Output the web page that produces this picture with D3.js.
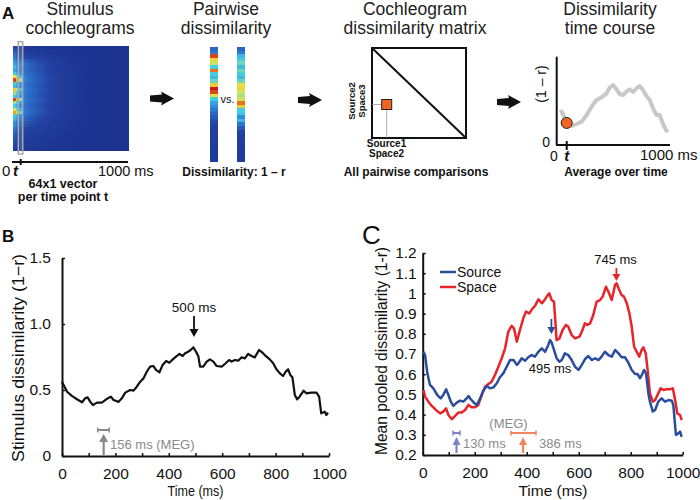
<!DOCTYPE html>
<html><head><meta charset="utf-8">
<script src="https://cdn.jsdelivr.net/npm/d3@7"></script>
<style>body{margin:0;background:#fff}svg{display:block}text{font-family:"Liberation Sans",Arial,Helvetica,sans-serif}</style>
</head><body><svg id="fig" width="700" height="500"></svg>
<script>
// ---------- DATA ----------
// Panel B: stimulus dissimilarity time course
const timeB = [0,19,37,56,75,87,96,106,116,131,149,162,174,183,193,212,224,237,255,268,280,293,305,318,330,342,352,365,377,390,402,415,427,440,452,461,473,482,492,502,511,517,529,542,554,567,579,598,610,626,635,648,660,672,685,697,710,722,738,751,763,778,791,803,816,828,838,847,855,863,872,881,890,905,915,934,953,963,971,984,990,996];
const stimDissim = [0.563,0.487,0.455,0.43,0.407,0.437,0.444,0.41,0.386,0.404,0.404,0.424,0.44,0.45,0.424,0.41,0.437,0.48,0.5,0.495,0.525,0.563,0.588,0.64,0.677,0.682,0.652,0.634,0.69,0.72,0.707,0.732,0.753,0.773,0.758,0.778,0.79,0.803,0.823,0.79,0.753,0.677,0.677,0.715,0.732,0.715,0.682,0.677,0.697,0.727,0.715,0.727,0.722,0.747,0.74,0.773,0.758,0.747,0.803,0.783,0.758,0.732,0.702,0.657,0.626,0.606,0.639,0.657,0.614,0.596,0.462,0.429,0.45,0.495,0.475,0.48,0.48,0.45,0.323,0.336,0.31,0.328];
const bTicksY = [0,0.5,1,1.5];
const xTicks = [0,100,200,300,400,500,600,700,800,900,1000];

// Panel C: mean pooled dissimilarity
const timeSource = [3,9,18,28,41,56,69,79,90,99,108,118,131,144,156,169,176,185,197,208,221,233,246,259,272,285,297,310,323,336,349,362,368,381,394,406,419,432,445,458,471,483,490,496,505,515,526,535,547,560,573,586,599,612,624,637,650,663,676,688,701,714,727,740,753,765,778,791,804,817,826,836,846,851,859,868,874,885,894,906,919,932,945,958,964,974,983,990,996];
const source = [0.711,0.695,0.604,0.547,0.53,0.497,0.48,0.497,0.525,0.497,0.464,0.443,0.459,0.469,0.464,0.48,0.492,0.476,0.459,0.447,0.48,0.518,0.542,0.53,0.535,0.555,0.585,0.604,0.637,0.67,0.67,0.646,0.654,0.679,0.667,0.684,0.695,0.687,0.711,0.728,0.711,0.745,0.769,0.756,0.72,0.679,0.662,0.67,0.703,0.695,0.67,0.637,0.621,0.646,0.674,0.69,0.67,0.679,0.67,0.687,0.711,0.695,0.687,0.72,0.703,0.684,0.684,0.657,0.621,0.601,0.601,0.58,0.604,0.621,0.604,0.505,0.464,0.415,0.423,0.464,0.48,0.464,0.472,0.469,0.447,0.299,0.307,0.316,0.29];
const timeSpace = [3,9,22,35,51,67,79,90,99,112,124,137,150,163,176,188,201,214,227,240,253,265,278,291,304,317,329,342,351,362,374,387,397,410,423,432,445,458,467,477,487,496,505,515,526,538,551,560,573,586,603,612,624,633,644,656,669,682,692,705,714,727,740,746,756,765,774,785,795,804,813,823,833,842,849,858,865,874,885,894,906,915,926,938,951,962,971,979,990,996];
const space = [0.522,0.489,0.464,0.443,0.423,0.406,0.415,0.431,0.398,0.377,0.393,0.41,0.41,0.423,0.448,0.436,0.436,0.448,0.497,0.538,0.551,0.563,0.596,0.637,0.679,0.728,0.81,0.839,0.827,0.761,0.819,0.877,0.91,0.901,0.926,0.938,0.971,0.951,0.964,0.984,1.0,0.967,0.959,0.769,0.777,0.819,0.844,0.835,0.794,0.777,0.786,0.81,0.852,0.844,0.852,0.893,0.959,0.967,0.984,1.033,1.009,0.967,1.042,1.05,1.017,0.992,0.984,0.951,0.901,0.835,0.736,0.711,0.687,0.72,0.733,0.703,0.621,0.505,0.464,0.472,0.505,0.53,0.522,0.525,0.525,0.53,0.472,0.406,0.398,0.373];
const cTicksY = [0.2,0.3,0.4,0.5,0.6,0.7,0.8,0.9,1,1.1,1.2];
const seriesNames = ["Source","Space"];

// Panel A: schematic cochleogram (32 frequency rows x 36 time bins)
const cochSpectrum = [0.15,0.2,0.25,0.3,0.35,0.4,0.45,0.4,0.5,0.7,0.95,0.5,0.45,0.75,0.6,0.5,0.95,0.6,0.5,0.65,0.85,0.5,0.45,0.35,0.35,0.3,0.25,0.22,0.2,0.18,0.15,0.12];
const cochEnvelope = [0.1,0.12,0.18,0.3,0.42,0.5,0.52,0.5,0.55,0.58,0.6,0.56,0.55,0.58,0.56,0.55,0.58,0.55,0.52,0.55,0.56,0.5,0.45,0.4,0.36,0.3,0.25,0.2,0.16,0.14,0.12,0.1];
const cochSharp = [1,0.85,0.62,0.3,0,0,0,0,0,0,0,0,0,0,0,0,0,0,0,0,0,0,0,0,0,0,0,0,0,0,0,0,0,0,0,0];
const cochHaze = [0.6,0.6,0.6,0.55,0.5,0.46,0.43,0.4,0.36,0.33,0.3,0.27,0.24,0.21,0.18,0.15,0.12,0.1,0.08,0.07,0.06,0.05,0.04,0.03,0.02,0.01,0,0,0,0,0,0,0,0,0,0];
// Two 64x1 vectors (shown as 32 bins)
const vecA = [0.25,0.3,0.95,0.72,0.65,0.5,0.9,0.5,0.45,0.55,0.75,1.0,0.95,0.7,0.5,0.4,0.35,0.3,0.25,0.22,0.18,0.15,0.12,0.1,0.1,0.1,0.08,0.08,0.08,0.08,0.08,0.08];
const vecB = [0.25,0.3,0.45,0.5,0.55,0.45,0.55,0.5,0.45,0.55,0.7,0.72,0.65,0.62,0.65,0.9,0.75,0.5,0.48,0.35,0.45,0.3,0.22,0.15,0.12,0.1,0.1,0.1,0.08,0.08,0.08,0.08];
// Mini time course
const miniTime = [36,60,90,134,179,224,269,313,358,403,448,478,507,537,567,597,627,657,687,716,746,776,806,836,866,896,925,955,985,1000];
const miniVal = [0.396,0.34,0.238,0.215,0.238,0.264,0.34,0.434,0.509,0.54,0.585,0.653,0.679,0.63,0.577,0.566,0.604,0.63,0.6,0.642,0.668,0.623,0.555,0.509,0.415,0.34,0.34,0.238,0.162,0.177];
const miniPoint = [90, 0.25];

// ---------- DRAWING ----------
const svg = d3.select("#fig");
svg.append("rect").attr("width",700).attr("height",500).attr("fill","#fff");
const BLUE = "#2b4d9e", RED = "#e8242b", GRAY = "#8a8a8a", ORANGE = "#f26522";

function T(g, x, y, s, o = {}) {
  const t = g.append("text").text(s)
    .attr("font-size", o.size || 15)
    .attr("font-weight", o.weight || "normal")
    .attr("text-anchor", o.anchor || "start")
    .attr("fill", o.fill || "#111");
  if (o.italic) t.attr("font-style", "italic");
  if (o.rot) t.attr("transform", `translate(${x},${y}) rotate(-90)`);
  else t.attr("x", x).attr("y", y);
  if (o.len) t.attr("textLength", o.len).attr("lengthAdjust", "spacingAndGlyphs");
  return t;
}
function vArrow(g, x, yFrom, yTip, color, hl = 7, hw = 4, sw = 1.8) {
  const dir = yTip > yFrom ? 1 : -1;
  g.append("line").attr("x1", x).attr("x2", x).attr("y1", yFrom).attr("y2", yTip - dir * hl)
    .attr("stroke", color).attr("stroke-width", sw);
  g.append("path").attr("d", `M${x - hw},${yTip - dir * hl} L${x + hw},${yTip - dir * hl} L${x},${yTip} Z`).attr("fill", color);
}
function errBar(g, x1, x2, y, color) {
  g.append("line").attr("x1", x1).attr("x2", x2).attr("y1", y).attr("y2", y).attr("stroke", color).attr("stroke-width", 2);
  [x1, x2].forEach(x => g.append("line").attr("x1", x).attr("x2", x).attr("y1", y - 2.5).attr("y2", y + 2.5).attr("stroke", color).attr("stroke-width", 1.5));
}
function bigArrow(g, x0, cy) {
  g.append("path").attr("d", `M${x0},${cy-3} L${x0+12},${cy-4} L${x0+11},${cy-7} L${x0+24},${cy} L${x0+11},${cy+7} L${x0+12},${cy+4} L${x0},${cy+3} Z`).attr("fill", "#111");
}
const jet = d3.scaleLinear()
  .domain([0, 0.15, 0.32, 0.5, 0.68, 0.85, 1])
  .range(["#1c3390", "#2443a3", "#2f7fd8", "#42cfe2", "#e6e64a", "#f5a01e", "#cc1a1a"]).clamp(true);

// ===== Panel A =====
const gA = svg.append("g");
T(gA, 2, 19, "A", {size: 17, weight: "bold"});
[["Stimulus","cochleograms",80],["Pairwise","dissimilarity",226],["Cochleogram","dissimilarity matrix",415],["Dissimilarity","time course",610]]
  .forEach(([a,b,cx]) => { T(gA, cx, 15, a, {size: 17.5, anchor: "middle", fill: "#222"}); T(gA, cx, 34, b, {size: 17.5, anchor: "middle", fill: "#222"}); });

// cochleogram
const cx = d3.scaleBand().domain(d3.range(cochHaze.length)).range([12.7, 128.3]);
const cy = d3.scaleBand().domain(d3.range(cochSpectrum.length)).range([45.7, 150]);
const cells = [];
cochSpectrum.forEach((s, r) => cochHaze.forEach((h, c) =>
  cells.push({r, c, v: Math.max(s * cochSharp[c], cochEnvelope[r] * h)})));
gA.append("g").attr("shape-rendering","crispEdges").selectAll("rect").data(cells).join("rect")
  .attr("x", d => cx(d.c)).attr("y", d => cy(d.r)).attr("width", cx.bandwidth() + 0.5).attr("height", cy.bandwidth() + 0.5)
  .attr("fill", d => jet(d.v));
gA.append("rect").attr("x", 18.3).attr("y", 41.7).attr("width", 4.4).attr("height", 112.3)
  .attr("fill", "rgba(255,255,255,0.12)").attr("stroke", "#a8a8a8").attr("stroke-width", 1.5);
gA.append("line").attr("x1", 12).attr("x2", 128).attr("y1", 162).attr("y2", 162).attr("stroke", "#111").attr("stroke-width", 2);
gA.append("line").attr("x1", 20.7).attr("x2", 20.7).attr("y1", 159).attr("y2", 165).attr("stroke", "#111").attr("stroke-width", 2);
T(gA, 2, 176, "0", {size: 15});
T(gA, 13, 176, "t", {size: 15, weight: "bold", italic: true});
T(gA, 98, 176, "1000 ms", {size: 14.5});
T(gA, 63, 188, "64x1 vector", {size: 12.5, weight: "bold", anchor: "middle"});
T(gA, 63, 201, "per time point t", {size: 12.5, weight: "bold", anchor: "middle"});

bigArrow(gA, 150, 98.5);
// pairwise vectors
const vy = d3.scaleBand().domain(d3.range(vecA.length)).range([47, 162]);
[[vecA, 210], [vecB, 236.7]].forEach(([vec, x0]) => {
  gA.append("g").attr("shape-rendering","crispEdges").selectAll("rect").data(vec).join("rect")
    .attr("x", x0).attr("width", 8.3).attr("y", (d, i) => vy(i)).attr("height", vy.bandwidth() + 0.4)
    .attr("fill", d => jet(d));
});
T(gA, 220.5, 103, "vs.", {size: 11});
T(gA, 234, 176, "Dissimilarity: 1 \u2013 r", {size: 12, weight: "bold", anchor: "middle"});

bigArrow(gA, 298, 100);
// matrix
gA.append("rect").attr("x", 372).attr("y", 48).attr("width", 94).attr("height", 90).attr("fill", "none").attr("stroke", "#111").attr("stroke-width", 2);
gA.append("line").attr("x1", 372).attr("y1", 48).attr("x2", 466).attr("y2", 138).attr("stroke", "#111").attr("stroke-width", 2);
gA.append("line").attr("x1", 372).attr("x2", 382).attr("y1", 104.5).attr("y2", 104.5).attr("stroke", "#999").attr("stroke-width", 0.8);
gA.append("line").attr("x1", 386.7).attr("x2", 386.7).attr("y1", 110).attr("y2", 138).attr("stroke", "#999").attr("stroke-width", 0.8);
gA.append("rect").attr("x", 381.7).attr("y", 99.5).attr("width", 10).attr("height", 10).attr("fill", ORANGE).attr("stroke", "#222").attr("stroke-width", 1);
T(gA, 386.5, 147, "Source1", {size: 10, weight: "bold", anchor: "middle"});
T(gA, 386.5, 157, "Space2", {size: 10, weight: "bold", anchor: "middle"});
T(gA, 355, 101, "Source2", {size: 9.5, weight: "bold", anchor: "middle", rot: true});
T(gA, 365, 101, "Space3", {size: 9.5, weight: "bold", anchor: "middle", rot: true});
T(gA, 416, 176, "All pairwise comparisons", {size: 12, weight: "bold", anchor: "middle"});

bigArrow(gA, 497, 102);
// mini time course
const mx = d3.scaleLinear().domain([0, 1000]).range([556.7, 668]);
const my = d3.scaleLinear().domain([0, 1]).range([145, 56.7]);
gA.append("line").attr("x1", 556.7).attr("x2", 556.7).attr("y1", 56.7).attr("y2", 145).attr("stroke", "#111").attr("stroke-width", 2);
gA.append("line").attr("x1", 556).attr("x2", 670).attr("y1", 145).attr("y2", 145).attr("stroke", "#111").attr("stroke-width", 2);
gA.append("line").attr("x1", mx(miniPoint[0])).attr("x2", mx(miniPoint[0])).attr("y1", 141).attr("y2", 150).attr("stroke", "#111").attr("stroke-width", 2);
gA.append("path").datum(d3.zip(miniTime, miniVal))
  .attr("d", d3.line().x(d => mx(d[0])).y(d => my(d[1])))
  .attr("fill", "none").attr("stroke", "#c8c8c8").attr("stroke-width", 4).attr("stroke-linejoin", "round");
gA.append("circle").attr("cx", mx(miniPoint[0])).attr("cy", my(miniPoint[1])).attr("r", 5.5).attr("fill", ORANGE).attr("stroke", "#222").attr("stroke-width", 1);
T(gA, 550, 147, "0", {size: 14, anchor: "end"});
T(gA, 550, 161, "0", {size: 14, anchor: "start"});
T(gA, mx(miniPoint[0]), 161, "t", {size: 15, weight: "bold", italic: true, anchor: "middle"});
T(gA, 640, 160, "1000 ms", {size: 15});
T(gA, 546, 84, "(1 \u2013 r)", {size: 14, anchor: "middle", rot: true});
T(gA, 616, 176, "Average over time", {size: 12, weight: "bold", anchor: "middle"});

// ===== Panel B =====
const gB = svg.append("g");
const xB = d3.scaleLinear().domain([0, 1000]).range([62, 329]);
const yB = d3.scaleLinear().domain([0, 1.5]).range([456, 258]);
T(gB, 2, 242, "B", {size: 17, weight: "bold"});
function styleAxis(sel, fs) {
  sel.select(".domain").attr("stroke", "#111").attr("stroke-width", 2);
  sel.selectAll(".tick line").attr("stroke", "#111").attr("stroke-width", 1.5);
  sel.selectAll(".tick text").attr("font-size", fs).attr("fill", "#111").attr("font-family", '"Liberation Sans",Arial,sans-serif');
  sel.attr("font-family", null).attr("font-size", null);
}
gB.append("g").attr("transform", "translate(0,456)")
  .call(d3.axisBottom(xB).tickValues(xTicks).tickFormat(d => d % 200 === 0 ? d : "").tickSizeInner(-3).tickSizeOuter(0).tickPadding(12))
  .call(s => styleAxis(s, 15.5));
gB.append("g").attr("transform", "translate(62,0)")
  .call(d3.axisLeft(yB).tickValues(bTicksY).tickFormat(d => d === 0 ? "0" : d.toFixed(1)).tickSizeInner(-3).tickSizeOuter(0).tickPadding(11))
  .call(s => styleAxis(s, 15.5));
gB.append("path").datum(d3.zip(timeB, stimDissim))
  .attr("d", d3.line().x(d => xB(d[0])).y(d => yB(d[1])))
  .attr("fill", "none").attr("stroke", "#111").attr("stroke-width", 2.2).attr("stroke-linejoin", "round");
T(gB, 195.5, 496, "Time (ms)", {size: 14.5, anchor: "middle", len: 56});
T(gB, 24, 358, "Stimulus dissimilarity (1\u2212r)", {size: 16.5, anchor: "middle", rot: true, len: 208});
T(gB, 194, 311.5, "500 ms", {size: 13.5, anchor: "middle"});
vArrow(gB, 194, 316, 337, "#111", 8, 4.5, 1.8);
errBar(gB, 97.7, 109.3, 430, GRAY);
vArrow(gB, xB(156), 456, 434, GRAY, 8, 4.5, 2.2);
T(gB, 110, 449, "156 ms (MEG)", {size: 13, fill: GRAY});

// ===== Panel C =====
const gC = svg.append("g");
const xC = d3.scaleLinear().domain([0, 1000]).range([422.7, 682.7]);
const yC = d3.scaleLinear().domain([0.2, 1.2]).range([455, 253]);
T(gC, 362, 244, "C", {size: 26});
gC.append("g").attr("transform", "translate(0,455)")
  .call(d3.axisBottom(xC).tickValues(xTicks).tickFormat(d => d % 200 === 0 ? d : "").tickSizeInner(-3).tickSizeOuter(0).tickPadding(12))
  .call(s => styleAxis(s, 15.5));
gC.append("g").attr("transform", "translate(422.7,0)")
  .call(d3.axisLeft(yC).tickValues(cTicksY).tickFormat(d3.format("~g")).tickSizeInner(-3).tickSizeOuter(0).tickPadding(6))
  .call(s => styleAxis(s, 15.5));
const lineC = d3.line().x(d => xC(d[0])).y(d => yC(d[1]));
[[timeSpace, space, RED], [timeSource, source, BLUE]].forEach(([t, v, col]) => {
  gC.append("path").datum(d3.zip(t, v)).attr("d", lineC)
    .attr("fill", "none").attr("stroke", col).attr("stroke-width", 2.5).attr("stroke-linejoin", "round");
});
// legend
[[seriesNames[0], BLUE, 272, 276.5], [seriesNames[1], RED, 287, 291.5]].forEach(([n, col, ly, ty]) => {
  gC.append("line").attr("x1", 440).attr("x2", 456).attr("y1", ly).attr("y2", ly).attr("stroke", col).attr("stroke-width", 2.5);
  T(gC, 457, ty, n, {size: 14});
});
T(gC, 553, 496, "Time (ms)", {size: 15.5, anchor: "middle", len: 69});
T(gC, 387, 351, "Mean pooled dissimilarity (1-r)", {size: 16, anchor: "middle", rot: true, len: 208});
T(gC, 615.5, 264, "745 ms", {size: 13, anchor: "middle"});
vArrow(gC, xC(745), 268, 281, RED, 7, 4, 1.8);
vArrow(gC, xC(495), 319, 334, BLUE, 7, 4, 1.8);
T(gC, 550, 373, "495 ms", {size: 13, anchor: "middle"});
T(gC, 508.5, 428, "(MEG)", {size: 13, anchor: "middle", fill: GRAY});
const LBLUE = "#7f82c6", LORANGE = "#f4845f";
errBar(gC, 453, 460, 433, LBLUE);
vArrow(gC, xC(130), 453, 437, LBLUE, 8, 4, 2.2);
T(gC, 463, 448, "130 ms", {size: 13, fill: GRAY});
errBar(gC, 511, 536, 433, LORANGE);
vArrow(gC, xC(386), 453, 437, LORANGE, 8, 4, 2.2);
T(gC, 539, 448, "386 ms", {size: 13, fill: GRAY});
</script></body></html>
